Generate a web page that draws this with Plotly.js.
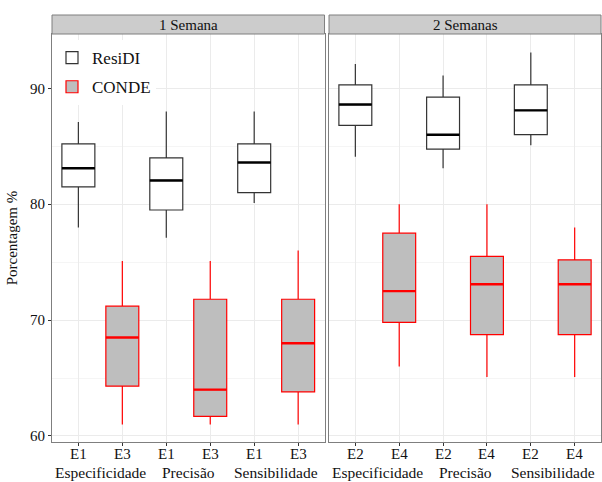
<!DOCTYPE html>
<html>
<head>
<meta charset="utf-8">
<script src="https://cdn.plot.ly/plotly-3.0.1.min.js"></script>
<style>html,body{margin:0;padding:0;background:#fff;}#chart{width:602px;height:482px;}</style>
</head>
<body>
<div id="chart"></div>
<script>
// Facets and categories
const panels = ["1 Semana", "2 Semanas"];
const groups = ["Especificidade", "Precisão", "Sensibilidade"];
const tickLabels1 = ["E1", "E3", "E1", "E3", "E1", "E3"];
const tickLabels2 = ["E2", "E4", "E2", "E4", "E2", "E4"];
const positions = [1, 2, 3, 4, 5, 6];
const residiPos = [1, 3, 5];
const condePos = [2, 4, 6];

// 1 Semana - ResiDI (E1)
const residi1_low = [78.0, 77.1, 80.1];
const residi1_q1 = [81.5, 79.5, 81.0];
const residi1_med = [83.1, 82.05, 83.6];
const residi1_q3 = [85.2, 84.0, 85.2];
const residi1_high = [87.1, 88.0, 88.0];
// 1 Semana - CONDE (E3)
const conde1_low = [61.0, 61.0, 61.0];
const conde1_q1 = [64.3, 61.7, 63.8];
const conde1_med = [68.5, 64.0, 68.0];
const conde1_q3 = [71.2, 71.8, 71.8];
const conde1_high = [75.1, 75.1, 76.0];
// 2 Semanas - ResiDI (E2)
const residi2_low = [84.1, 83.1, 85.1];
const residi2_q1 = [86.8, 84.75, 86.0];
const residi2_med = [88.6, 86.0, 88.1];
const residi2_q3 = [90.3, 89.25, 90.3];
const residi2_high = [92.1, 91.1, 93.1];
// 2 Semanas - CONDE (E4)
const conde2_low = [66.0, 65.1, 65.1];
const conde2_q1 = [69.8, 68.75, 68.75];
const conde2_med = [72.5, 73.1, 73.1];
const conde2_q3 = [77.5, 75.5, 75.2];
const conde2_high = [80.0, 80.0, 78.0];

const serif = "Liberation Serif, Times New Roman, serif";
const txt = "#111111";
const BW = 0.75;

function boxTrace(name, pos, low, q1, med, q3, high, xa, ya, style, showlegend) {
  return {
    type: "box", name: name, x: pos, q1: q1, median: med, q3: q3,
    lowerfence: low, upperfence: high, xaxis: xa, yaxis: ya,
    width: BW, whiskerwidth: 0, boxpoints: false,
    fillcolor: style.fill, line: {color: style.line, width: 1.2},
    showlegend: showlegend, legendgroup: name, hoverinfo: "skip"
  };
}
function medianTrace(pos, med, xa, ya, color) {
  const xs = [], ys = [];
  pos.forEach((p, i) => { xs.push(p - BW / 2, p + BW / 2, null); ys.push(med[i], med[i], null); });
  return {type: "scatter", mode: "lines", x: xs, y: ys, xaxis: xa, yaxis: ya,
    line: {color: color, width: 2.4}, showlegend: false, hoverinfo: "skip"};
}

const sR = {fill: "#ffffff", line: "#333333"};
const sC = {fill: "#bebebe", line: "#ff0000"};

const data = [
  boxTrace("ResiDI", residiPos, residi1_low, residi1_q1, residi1_med, residi1_q3, residi1_high, "x", "y", sR, true),
  boxTrace("CONDE", condePos, conde1_low, conde1_q1, conde1_med, conde1_q3, conde1_high, "x", "y", sC, true),
  boxTrace("ResiDI", residiPos, residi2_low, residi2_q1, residi2_med, residi2_q3, residi2_high, "x2", "y2", sR, false),
  boxTrace("CONDE", condePos, conde2_low, conde2_q1, conde2_med, conde2_q3, conde2_high, "x2", "y2", sC, false),
  medianTrace(residiPos, residi1_med, "x", "y", "#000000"),
  medianTrace(condePos, conde1_med, "x", "y", "#ff0000"),
  medianTrace(residiPos, residi2_med, "x2", "y2", "#000000"),
  medianTrace(condePos, conde2_med, "x2", "y2", "#ff0000")
];

const plotH = 408;
const stripH = 19 / plotH;
const d1 = [0, 0.4964], d2 = [0.5046, 1];

const xBase = {
  range: [0.4, 6.6], tickmode: "array", tickvals: positions, showticklabels: false,
  showgrid: true, gridcolor: "#ebebeb", gridwidth: 1, zeroline: false,
  showline: true, mirror: true, linecolor: "#7f7f7f", linewidth: 1,
  ticks: "outside", ticklen: 3, tickcolor: "#333333"
};
const yBase = {
  range: [59.48, 94.69], tickvals: [60, 70, 80, 90],
  showgrid: true, gridcolor: "#ebebeb", gridwidth: 1, zeroline: false,
  minor: {tickvals: [65, 75, 85], showgrid: true, gridcolor: "#f5f5f5", gridwidth: 1},
  showline: true, mirror: true, linecolor: "#7f7f7f", linewidth: 1,
  ticks: "outside", ticklen: 3, tickcolor: "#333333",
  tickfont: {family: serif, size: 15, color: txt}
};

const annotations = [];
panels.forEach((p, i) => {
  const d = i === 0 ? d1 : d2;
  annotations.push({text: p, xref: "paper", yref: "paper", x: (d[0] + d[1]) / 2, y: 1 + stripH / 2,
    showarrow: false, xanchor: "center", yanchor: "middle", font: {family: serif, size: 15, color: txt}});
});
[["x", tickLabels1], ["x2", tickLabels2]].forEach(([xa, labels]) => {
  positions.forEach((p, i) => {
    annotations.push({text: labels[i], xref: xa, yref: "paper", x: p, y: 0, yshift: -12,
      showarrow: false, xanchor: "center", yanchor: "middle", borderpad: 0,
      font: {family: serif, size: 15, color: txt}});
  });
  groups.forEach((g, i) => {
    annotations.push({text: g, xref: xa, yref: "paper", x: 1.5 + 2 * i, y: 0, yshift: -30,
      showarrow: false, xanchor: "center", yanchor: "middle", borderpad: 0,
      font: {family: serif, size: 15.5, color: txt}});
  });
});

const shapes = [];
[d1, d2].forEach(d => {
  shapes.push({type: "rect", xref: "paper", yref: "paper", x0: d[0], x1: d[1], y0: 1, y1: 1 + stripH,
    fillcolor: "#cccccc", line: {color: "#7f7f7f", width: 1}, layer: "above"});
});

const layout = {
  width: 602, height: 482,
  margin: {l: 52, r: 1, t: 34, b: 40},
  paper_bgcolor: "#ffffff", plot_bgcolor: "#ffffff",
  boxmode: "overlay",
  xaxis: Object.assign({}, xBase, {domain: d1, anchor: "y"}),
  xaxis2: Object.assign({}, xBase, {domain: d2, anchor: "y2"}),
  yaxis: Object.assign({}, yBase, {domain: [0, 1], anchor: "x",
    title: {text: "Porcentagem %", font: {family: serif, size: 15, color: txt}, standoff: 8}}),
  yaxis2: Object.assign({}, yBase, {domain: [0, 1], anchor: "x2", matches: "y", showticklabels: false, ticks: ""}),
  showlegend: true,
  legend: {x: 0.0, y: 0.985, xanchor: "left", yanchor: "top", bgcolor: "#ffffff",
    font: {family: serif, size: 17, color: txt}, tracegroupgap: 4, itemclick: false},
  annotations: annotations,
  shapes: shapes,
  font: {family: serif}
};

Plotly.newPlot("chart", data, layout, {displayModeBar: false, staticPlot: true});
</script>
</body>
</html>
